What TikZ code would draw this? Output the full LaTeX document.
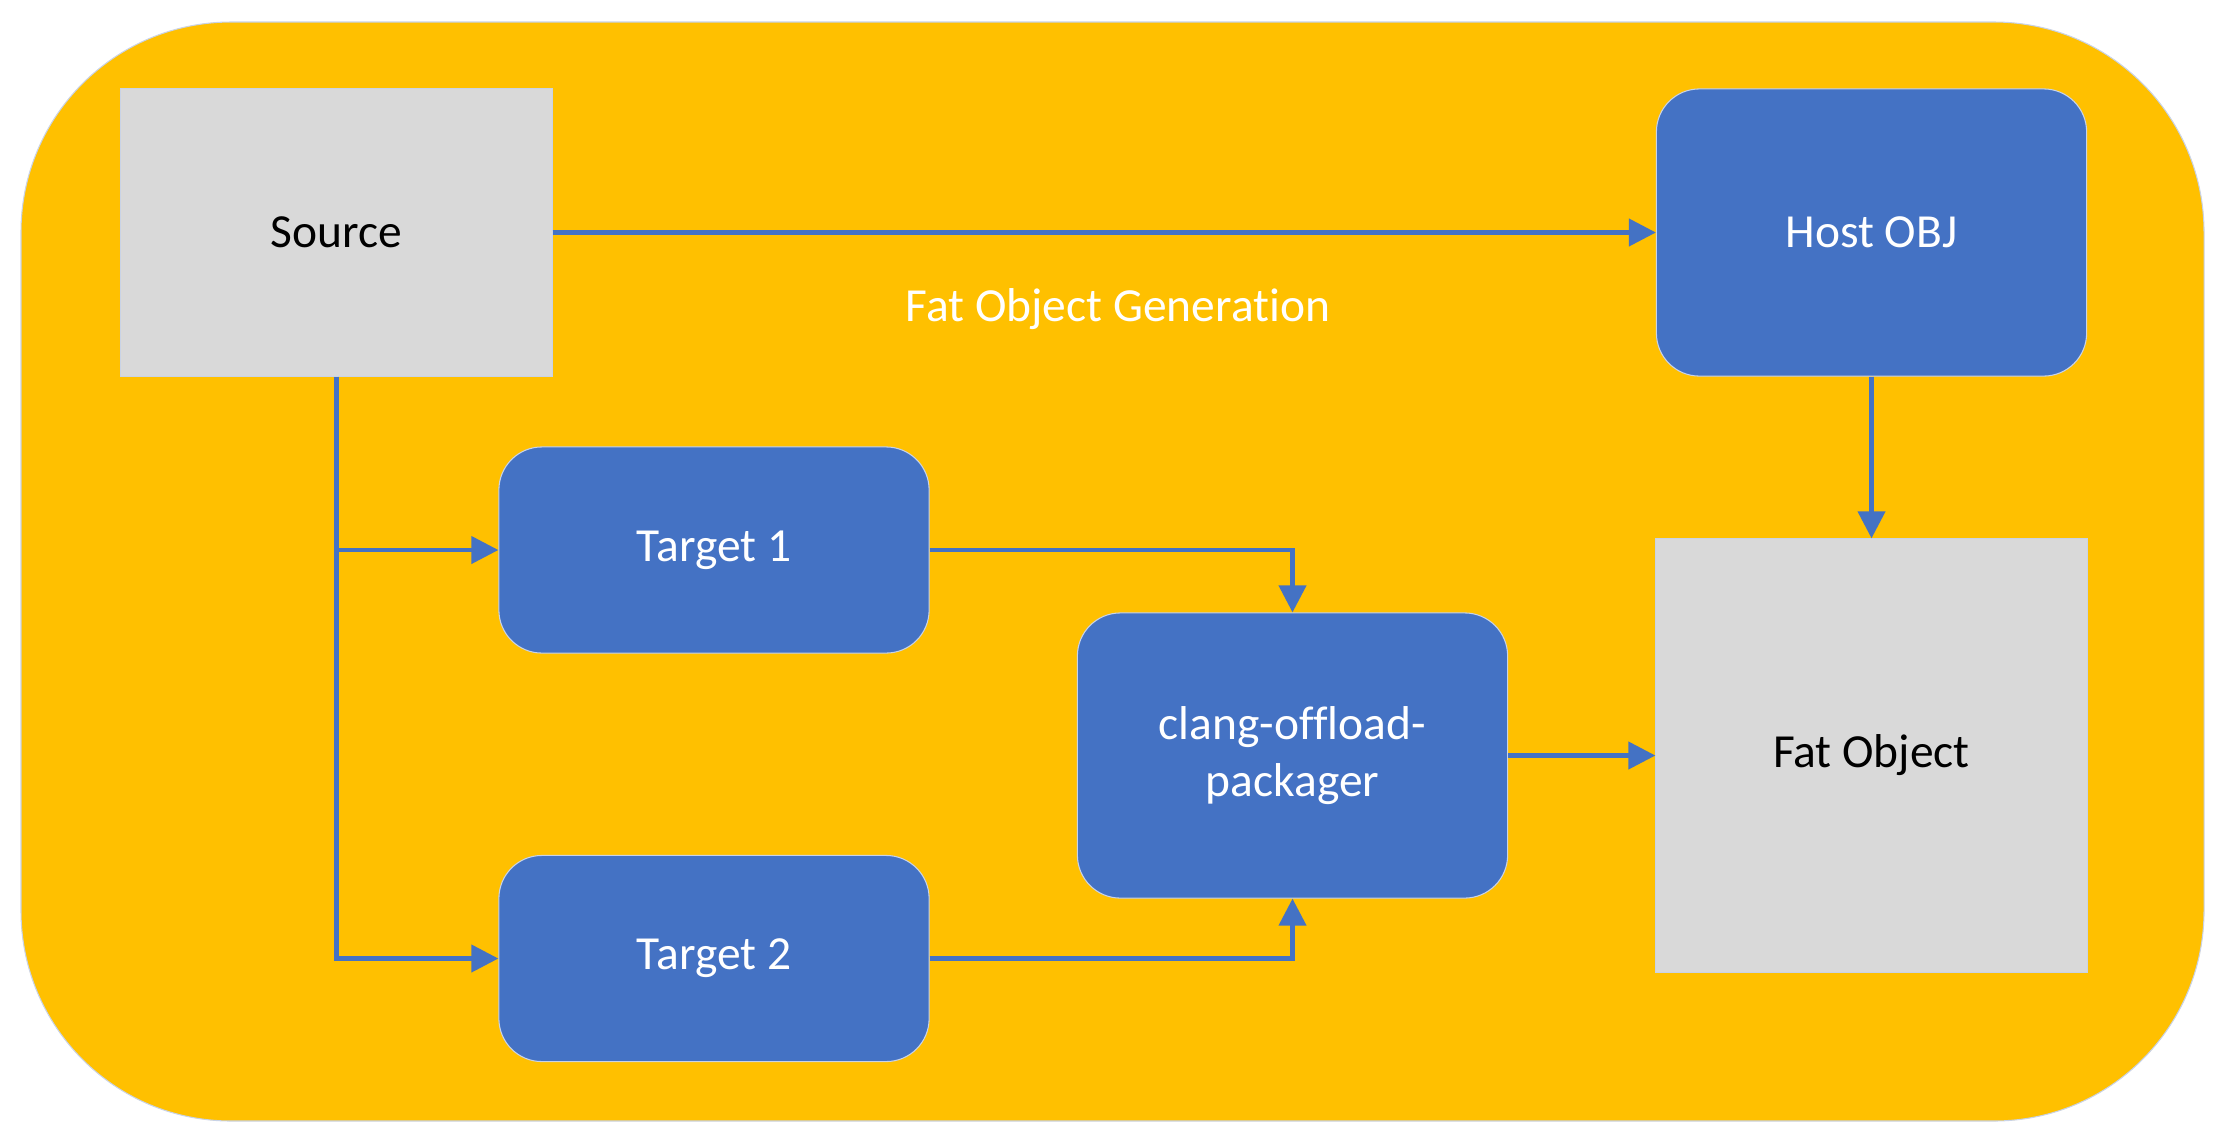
\documentclass[tikz,border=0pt]{standalone}
\usepackage{fontspec}
\setmainfont{Carlito}[Ligatures={NoCommon}]
\usetikzlibrary{arrows.meta}

\definecolor{framefill}{HTML}{FFC000}
\definecolor{stageblue}{HTML}{4472C4}
\definecolor{filegray}{HTML}{D9D9D9}
\definecolor{edgeline}{HTML}{C9D3E6}

\begin{document}
\begin{tikzpicture}[
		x=0.01cm, y=-0.01cm,
		every node/.style={font=\fontsize{13.5}{16.2}\selectfont},
		file/.style={rectangle, fill=filegray, draw=edgeline, line width=0.3pt, minimum width=4.31cm, inner sep=0pt},
		stage/.style={rectangle, rounded corners=4.3mm, fill=stageblue, draw=edgeline, line width=0.3pt, text=white, minimum width=4.3cm, inner sep=0pt, align=center},
		flow/.style={draw=stageblue, line width=1.2pt, -{Triangle[length=2.7mm,width=2.7mm]}}
	]
		\useasboundingbox (0,0) rectangle (2225,1142);
		\path[fill=framefill, draw=edgeline, line width=0.3pt, rounded corners=2.1cm] (21,22) rectangle (2204,1121);
		
		\node[file, minimum height=2.87cm](src) at (336.5,232.5){Source};
		\node[stage, minimum height=2.87cm](host) at (1871.5,232.5){Host OBJ};
		\node[stage, minimum height=2.06cm](tgt-1) at (714,550){Target 1};
		\node[stage, minimum height=2.06cm](tgt-2) at (714,958.5){Target 2};
		\node[stage, minimum height=2.85cm](pkg) at (1292.5,755.5){clang-offload-\\packager};
		\node[file, minimum height=4.33cm](fat) at (1871.5,755.5){Fat Object};
		\node[text=white](gen) at (1118,309){Fat Object Generation};
		
		\draw[flow](src) -- (host);
		\draw[flow](src.south) -- (src.south |- tgt-2.west) -- (tgt-2.west);
		\draw[flow](src.south |- tgt-1.west) -- (tgt-1.west);
		\draw[flow](tgt-1.east) -| (pkg.north);
		\draw[flow](tgt-2.east) -| (pkg.south);
		\draw[flow](pkg) -- (fat);
		\draw[flow](host) -- (fat);
	\end{tikzpicture}
\end{document}
